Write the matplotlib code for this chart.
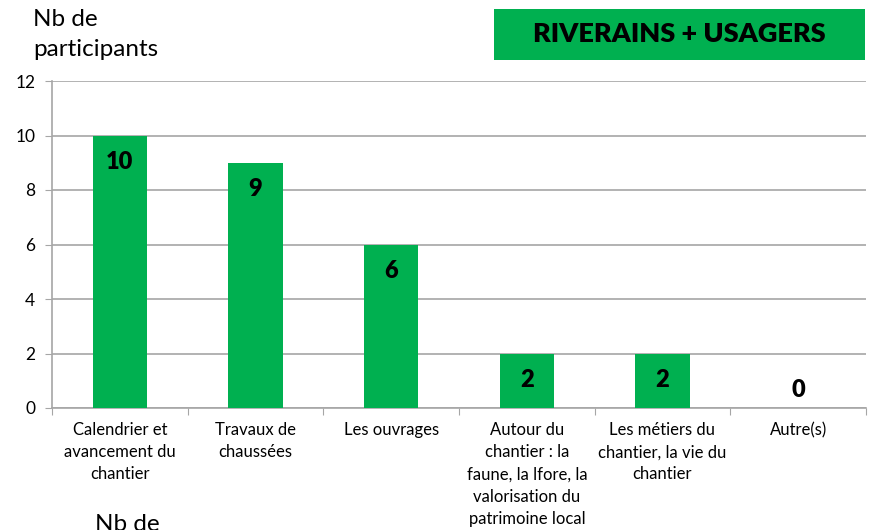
import matplotlib.pyplot as plt
import numpy as np

# Thèmes abordés et nombre de participants
categories = [
    "Calendrier et\navancement du\nchantier",
    "Travaux de\nchaussées",
    "Les ouvrages",
    "Autour du\nchantier : la\nfaune, la lfore, la\nvalorisation du\npatrimoine local",
    "Les métiers du\nchantier, la vie du\nchantier",
    "Autre(s)",
]
participants = [10, 9, 6, 2, 2, 0]
yticks = [0, 2, 4, 6, 8, 10, 12]

green = "#00B050"
grey = "#A6A6A6"

plt.rcParams['font.family'] = ['Lato', 'DejaVu Sans']

fig = plt.figure(figsize=(8.7, 5.3), dpi=100)
ax = fig.add_axes([52 / 870, 1 - 408 / 530, 814 / 870, 327 / 530])

x = np.arange(len(categories))
ax.bar(x, participants, width=0.4, color=green, zorder=3)

ax.set_xlim(-0.5, len(categories) - 0.5)
ax.set_ylim(0, 12)
ax.set_yticks(yticks)
ax.yaxis.grid(True, color=grey, linewidth=1.2, zorder=0)
ax.tick_params(axis='y', labelsize=12.5, length=5, color=grey, pad=7)

# graduations aux limites de catégories, libellés au centre
ax.set_xticks(np.arange(len(categories) + 1) - 0.5)
ax.set_xticklabels([])
ax.set_xticks(x, minor=True)
ax.set_xticklabels(categories, minor=True, fontsize=12, linespacing=1.48, va='top')
ax.tick_params(axis='x', which='major', length=5, color=grey)
ax.tick_params(axis='x', which='minor', length=0, pad=10)

for side in ['top', 'right']:
    ax.spines[side].set_visible(False)
for side in ['left', 'bottom']:
    ax.spines[side].set_color(grey)
    ax.spines[side].set_linewidth(1.2)

# valeurs dans les barres
for xi, v in zip(x, participants):
    off = -19 if v > 0 else 13
    ax.annotate(str(v), (xi, v), xytext=(0, off), textcoords='offset points',
                ha='center', va='center', fontsize=17, fontweight='heavy', zorder=4)

fig.text(33 / 870, 1 - 9 / 530, "Nb de\nparticipants", fontsize=17.5, va='top', ha='left',
         linespacing=1.55)
fig.text(95 / 870, 1 - 514 / 530, "Nb de", fontsize=17.5, va='top', ha='left')

fig.patches.append(plt.Rectangle((494 / 870, 1 - 60 / 530), 371 / 870, 51 / 530,
                                 transform=fig.transFigure, facecolor=green,
                                 edgecolor='none', zorder=0))
fig.text((494 + 865) / 2 / 870, 1 - 34 / 530, "RIVERAINS + USAGERS", fontsize=19.5,
         fontweight='heavy', ha='center', va='center')

fig.savefig("out.png", dpi=100)
